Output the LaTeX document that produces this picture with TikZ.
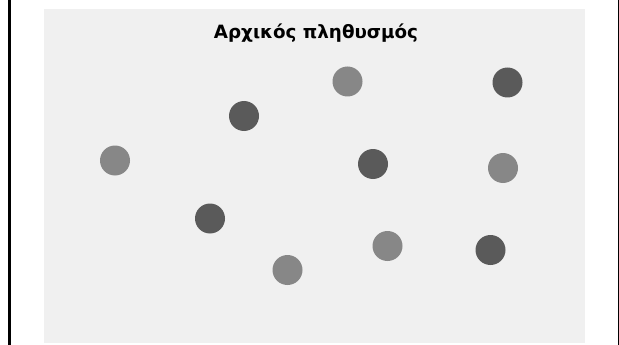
\documentclass[tikz,border=0pt]{standalone}
\usepackage{fontspec}
\setmainfont{DejaVu Sans}
\begin{document}
\begin{tikzpicture}[x=1pt,y=-1pt,
  light/.style={circle,fill=lightdot,draw=none,minimum size=30pt,inner sep=0pt},
  dark/.style={circle,fill=darkdot,draw=none,minimum size=30pt,inner sep=0pt}]
\definecolor{lightdot}{HTML}{878787}
\definecolor{darkdot}{HTML}{5A5A5A}
\definecolor{panel}{HTML}{F0F0F0}
\useasboundingbox (0,0) rectangle (619,345);
\fill[white] (0,0) rectangle (619,345);
\fill[black] (8,0) rectangle (11,345);
\fill[black] (617.5,0) rectangle (619,345);
\fill[panel] (44,9) rectangle (585,343);
\node[anchor=base,inner sep=0pt,font=\bfseries\fontsize{18.3}{20}\selectfont] (title) at (316,39) {Αρχικός πληθυσμός};
\node[light] (c1) at (347.5,81.5) {};
\node[dark]  (c2) at (507.5,82.5) {};
\node[dark]  (c3) at (244,116) {};
\node[light] (c4) at (115,160.5) {};
\node[dark]  (c5) at (373,164) {};
\node[light] (c6) at (503,168) {};
\node[dark]  (c7) at (210,218.5) {};
\node[light] (c8) at (387.5,246) {};
\node[dark]  (c9) at (490.5,250) {};
\node[light] (c10) at (287.5,270) {};
\end{tikzpicture}
\end{document}
